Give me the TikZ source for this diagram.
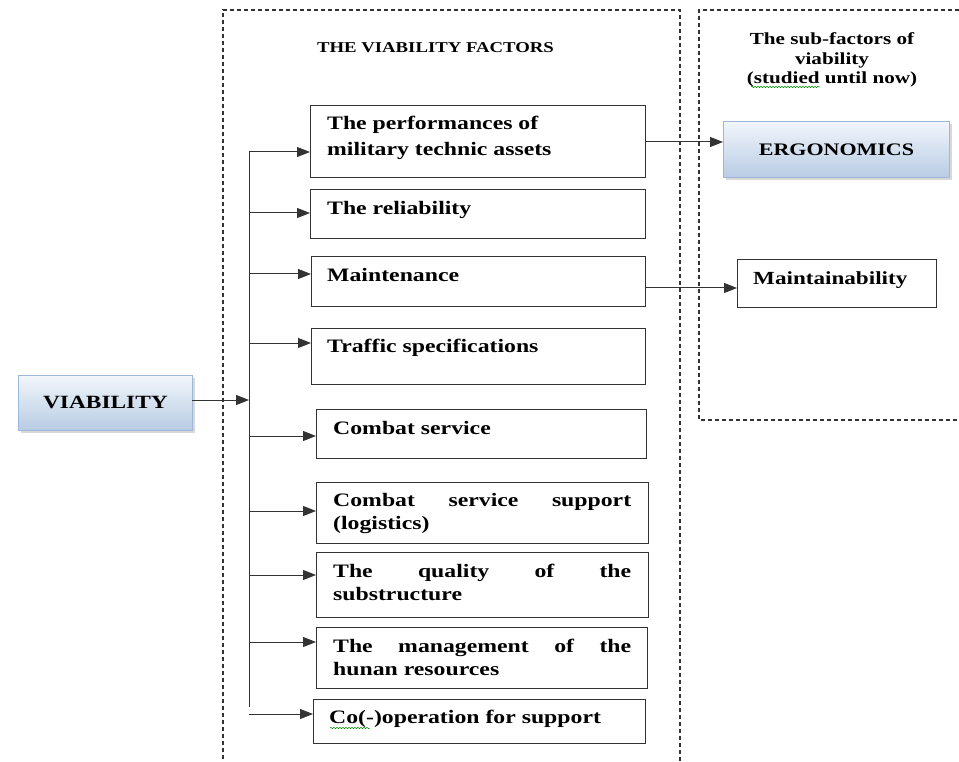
\documentclass[tikz,border=0pt]{standalone}
\usepackage{fontspec}
\setmainfont{Liberation Serif}[FakeStretch=1.25]
\usetikzlibrary{arrows.meta,shadows,decorations.pathmorphing}
\definecolor{gtop}{HTML}{F2F6FB}
\definecolor{gbot}{HTML}{B8CCE4}
\definecolor{gbrd}{HTML}{9DB7D8}
\definecolor{lnc}{HTML}{333333}
\begin{document}
\begin{tikzpicture}[x=1pt,y=-1pt,
  dbox/.style={draw=black!80, line width=1.1pt, dash pattern=on 4pt off 3pt},
  fbox/.style={draw=lnc, line width=0.9pt, rectangle, anchor=north west, inner sep=0pt},
  gbox/.style={rectangle, draw=gbrd, line width=0.9pt, top color=gtop, bottom color=gbot,
     drop shadow={shadow xshift=2.5pt, shadow yshift=-2.5pt, fill=black!30}, anchor=north west, inner sep=0pt},
  bfont/.style={font=\bfseries\fontsize{19}{23}\selectfont},
  txt/.style={bfont, anchor=north west, inner sep=0pt, align=left},
  jtxt/.style={bfont, anchor=north west, inner sep=0pt, text width=298pt, align=justify},
  arr/.style={-{Triangle[length=13pt,width=10pt]}, line width=1pt, draw=lnc, fill=black},
  wavy/.style={decorate, decoration={snake, segment length=3pt, amplitude=0.7pt}, draw=green!55!black, line width=0.5pt}
]
\clip (0,0) rectangle (959,762);
\fill[white] (0,0) rectangle (959,762);

% dashed frames
\draw[dbox] (223,780) -- (223,10) -- (680,10) -- (680,780);
\draw[dbox] (980,10) -- (699,10) -- (699,420) -- (980,420);

% titles
\node[font=\bfseries\fontsize{15}{19}\selectfont, anchor=base, inner sep=0pt] (title) at (435.5,53) {THE VIABILITY FACTORS};
\node[font=\bfseries\fontsize{16.9}{19.5}\selectfont, anchor=north, inner sep=0pt, align=center] (subtitle) at (832,31)
  {\strut The sub-factors of\\viability\\(studied until now)};
\draw[wavy] (751,87) -- (820,87);

% factor boxes
\node[fbox, minimum width=335pt, minimum height=72pt] (b1) at (310,105) {};
\node[fbox, minimum width=335pt, minimum height=49pt] (b2) at (310,189) {};
\node[fbox, minimum width=334pt, minimum height=50pt] (b3) at (311,256) {};
\node[fbox, minimum width=334pt, minimum height=56pt] (b4) at (311,328) {};
\node[fbox, minimum width=330pt, minimum height=49pt] (b5) at (316,409) {};
\node[fbox, minimum width=332pt, minimum height=61pt] (b6) at (316,482) {};
\node[fbox, minimum width=332pt, minimum height=65pt] (b7) at (316,552) {};
\node[fbox, minimum width=331pt, minimum height=61pt] (b8) at (316,627) {};
\node[fbox, minimum width=332pt, minimum height=44pt] (b9) at (313,699) {};

% texts
\node[txt, font=\bfseries\fontsize{19}{26}\selectfont] (t1) at (327,111) {\strut The performances of\\military technic assets};
\node[txt] (t2) at (327,197.9) {\strut The reliability};
\node[txt] (t3) at (327,264.9) {\strut Maintenance};
\node[txt] (t4) at (327,335.9) {\strut Traffic specifications};
\node[txt] (t5) at (333,417.9) {\strut Combat service};
\node[jtxt] (t6) at (333,489.9) {\strut Combat service support\linebreak (logistics)};
\node[jtxt] (t7) at (333,560.9) {\strut The quality of the\linebreak substructure};
\node[jtxt] (t8) at (333,635.9) {\strut The management of the\linebreak hunan resources};
\node[txt] (t9) at (329,706.9) {\strut Co(-)operation for support};
\draw[wavy] (330,728) -- (370,728);

% gradient boxes
\node[gbox, minimum width=174pt, minimum height=55pt] (viab) at (18,375) {};
\node[font=\bfseries\fontsize{18.7}{23}\selectfont] (viabt) at (viab.center) {VIABILITY};
\node[gbox, minimum width=226pt, minimum height=56pt] (ergo) at (723,121) {};
\node[font=\bfseries\fontsize{17.6}{22}\selectfont] (ergot) at (ergo.center) {ERGONOMICS};
\node[fbox, minimum width=199pt, minimum height=48pt] (maint) at (737,259) {};
\node[txt, font=\bfseries\fontsize{18.5}{23}\selectfont] (maintt) at (753,267.9) {\strut Maintainability};

% trunk
\coordinate (tt) at (249,152);
\coordinate (tb) at (249,707);
\draw[line width=1pt, draw=lnc] (tt) -- (tb);
\coordinate (a1) at (249,152);
\coordinate (a2) at (249,213);
\coordinate (a3) at (249,274);
\coordinate (a4) at (249,343);
\coordinate (a5) at (249,436);
\coordinate (a6) at (249,511);
\coordinate (a7) at (249,575);
\coordinate (a8) at (249,642);
\coordinate (a9) at (249,714);
\foreach \i in {1,...,9}{\draw[arr] (a\i) -- (a\i -| b\i.west);}
\coordinate (va) at (192,400);
\draw[arr] (va) -- (va -| tt);

% sub-factor arrows
\coordinate (e1) at (645,142);
\draw[arr] (e1) -- (e1 -| ergo.west);
\coordinate (m1) at (645,288);
\draw[arr] (m1) -- (m1 -| maint.west);
\end{tikzpicture}
\end{document}
